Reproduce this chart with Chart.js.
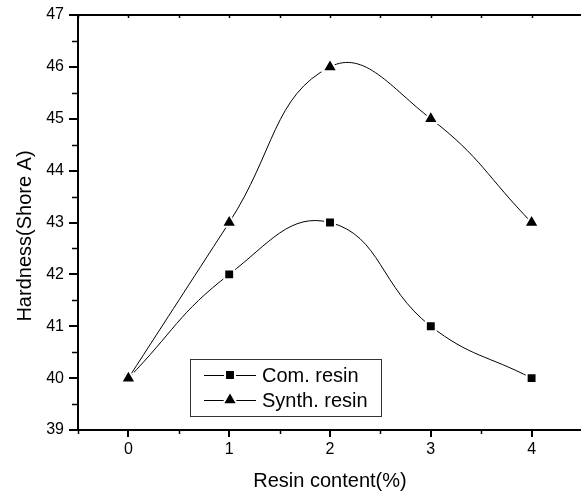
<!DOCTYPE html>
<html>
<head>
<meta charset="utf-8">
<script src="https://cdn.jsdelivr.net/npm/chart.js@4.4.1/dist/chart.umd.min.js"></script>
<style>
  html, body { margin: 0; padding: 0; background: #fff; overflow: hidden; width: 581px; height: 495px; }
  #wrap { position: relative; width: 600px; height: 495px; }
</style>
</head>
<body>
<div id="wrap"><canvas id="chart" width="600" height="495"></canvas></div>
<script>
const resinContent = [0, 1, 2, 3, 4];
const comResin = [40, 42, 43, 41, 40];
const synthResin = [40, 43, 46, 45, 43];
const xTicks = [0, 1, 2, 3, 4];
const yTicks = [39, 40, 41, 42, 43, 44, 45, 46, 47];
const legendLabels = ["Com. resin", "Synth. resin"];
const yTitle = "Hardness(Shore A)";
const xTitle = "Resin content(%)";

const FONT = "'Liberation Sans', Arial, sans-serif";
Chart.defaults.font.family = FONT;
Chart.defaults.color = "#000";

function points(values) {
  return resinContent.map((x, i) => ({ x, y: values[i] }));
}

const markerStyle = {
  pointBorderWidth: 2,
  pointBorderColor: "#fff",
  pointBackgroundColor: "#000",
};
const SQUARE_R = 7;
const TRIANGLE_R = 8.5;

// minor ticks, top frame line, rotated y title and the boxed legend
const decorations = {
  id: "decorations",
  afterDatasetsDraw(chart) {
    const { ctx, chartArea } = chart;
    const xs = chart.scales.x;
    const ys = chart.scales.y;
    ctx.save();
    ctx.strokeStyle = "#000";
    ctx.lineWidth = 2;

    // top frame
    ctx.beginPath();
    ctx.moveTo(chartArea.left - 1, chartArea.top);
    ctx.lineTo(chartArea.right, chartArea.top);
    ctx.stroke();

    ctx.lineWidth = 1.5;
    for (let v = -0.5; v <= 4.5; v += 0.5) {
      const px = Math.round(xs.getPixelForValue(v)) + 0.5;
      ctx.beginPath();
      ctx.moveTo(px, chartArea.top);
      ctx.lineTo(px, chartArea.top + 3);
      ctx.stroke();
      if (v % 1 !== 0) {
        ctx.beginPath();
        ctx.moveTo(px, chartArea.bottom);
        ctx.lineTo(px, chartArea.bottom + 4);
        ctx.stroke();
      }
    }
    for (let v = 39.5; v < 47; v += 1) {
      const py = Math.round(ys.getPixelForValue(v)) + 0.5;
      ctx.beginPath();
      ctx.moveTo(chartArea.left, py);
      ctx.lineTo(chartArea.left - 6, py);
      ctx.stroke();
    }

    // y title
    ctx.fillStyle = "#000";
    ctx.font = "20px " + FONT;
    ctx.textAlign = "center";
    ctx.textBaseline = "middle";
    ctx.translate(25, 236);
    ctx.rotate(-Math.PI / 2);
    ctx.fillText(yTitle, 0, 0);
    ctx.restore();

    // legend
    ctx.save();
    ctx.fillStyle = "#fff";
    ctx.fillRect(190.5, 359.5, 191, 57);
    ctx.strokeStyle = "#333";
    ctx.lineWidth = 1;
    ctx.strokeRect(190.5, 359.5, 191, 57);
    const rows = [
      { y: 375, style: "rect", r: SQUARE_R, label: legendLabels[0] },
      { y: 400, style: "triangle", r: TRIANGLE_R, label: legendLabels[1] },
    ];
    rows.forEach((row) => {
      ctx.strokeStyle = "#000";
      ctx.lineWidth = 1;
      ctx.beginPath();
      ctx.moveTo(204, row.y + 0.5);
      ctx.lineTo(256, row.y + 0.5);
      ctx.stroke();
      ctx.fillStyle = "#000";
      ctx.strokeStyle = "#fff";
      ctx.lineWidth = 2;
      Chart.helpers.drawPoint(ctx, { pointStyle: row.style, radius: row.r, rotation: 0, borderWidth: 2 }, 230, row.y);
      ctx.fillStyle = "#000";
      ctx.font = "20px " + FONT;
      ctx.textAlign = "left";
      ctx.textBaseline = "middle";
      ctx.fillText(row.label, 262, row.y + 1);
    });
    ctx.restore();
  },
};

new Chart(document.getElementById("chart"), {
  type: "line",
  data: {
    datasets: [
      {
        label: legendLabels[1],
        data: points(synthResin),
        borderColor: "#000",
        borderWidth: 1,
        tension: 0.45,
        pointStyle: "triangle",
        pointRadius: TRIANGLE_R,
        order: 0,
        ...markerStyle,
      },
      {
        label: legendLabels[0],
        data: points(comResin),
        borderColor: "#000",
        borderWidth: 1,
        tension: 0.45,
        pointStyle: "rect",
        pointRadius: SQUARE_R,
        order: 1,
        ...markerStyle,
      },
    ],
  },
  options: {
    responsive: false,
    animation: false,
    devicePixelRatio: 1,
    layout: { padding: { top: 15, right: 18, left: 0, bottom: 0 } },
    plugins: {
      legend: { display: false },
      tooltip: { enabled: false },
    },
    scales: {
      x: {
        type: "linear",
        min: -0.5,
        max: 4.5,
        afterBuildTicks: (scale) => { scale.ticks = xTicks.map((value) => ({ value })); },
        afterFit: (scale) => { scale.height = 65; },
        grid: { drawOnChartArea: false, drawTicks: true, tickLength: 7, color: "#000", lineWidth: 2 },
        border: { display: true, color: "#000", width: 2 },
        ticks: { font: { size: 16 }, padding: 3, maxRotation: 0, color: "#000" },
        title: { display: true, text: xTitle, font: { size: 20 }, color: "#000", padding: { top: 0, bottom: 2 } },
      },
      y: {
        type: "linear",
        min: 39,
        max: 47,
        afterBuildTicks: (scale) => { scale.ticks = yTicks.map((value) => ({ value })); },
        afterFit: (scale) => { scale.width = 78; },
        grid: { drawOnChartArea: false, drawTicks: true, tickLength: 9, color: "#000", lineWidth: 2 },
        border: { display: true, color: "#000", width: 2 },
        ticks: { font: { size: 16 }, padding: 5, color: "#000" },
      },
    },
  },
  plugins: [decorations],
});
</script>
</body>
</html>
